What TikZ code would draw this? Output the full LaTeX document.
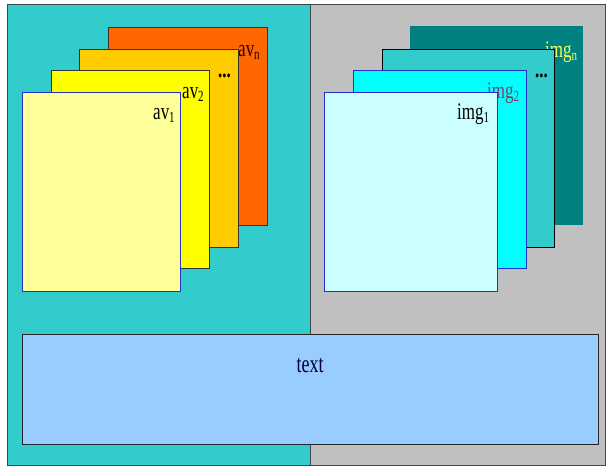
\documentclass[tikz,border=0pt]{standalone}
\usepackage{fontspec}
\setmainfont{Liberation Serif}
\definecolor{panelL}{HTML}{33CCCC}
\definecolor{panelR}{HTML}{C0C0C0}
\definecolor{avA}{HTML}{FFFF99}
\definecolor{avB}{HTML}{FFFF00}
\definecolor{avC}{HTML}{FFCC00}
\definecolor{avD}{HTML}{FF6600}
\definecolor{imA}{HTML}{CCFFFF}
\definecolor{imB}{HTML}{00FFFF}
\definecolor{imC}{HTML}{33CCCC}
\definecolor{imD}{HTML}{008080}
\definecolor{txtbox}{HTML}{99CCFF}
\definecolor{bluel}{HTML}{2233CC}
\definecolor{frame}{HTML}{3A4A4A}
\definecolor{labn}{HTML}{EEFF66}
\definecolor{labtwo}{HTML}{774466}
\newcommand{\sub}[1]{\raisebox{-2.5pt}{\fontsize{11}{11}\selectfont #1}}
\newcommand{\tall}[1]{\scalebox{1}[1.4]{#1}}
\begin{document}
\begin{tikzpicture}[x=1pt,y=-1pt,
  sheet/.style={rectangle,anchor=north west,inner sep=0pt,outer sep=0pt,line width=1pt},
  lab/.style={anchor=base west,inner sep=0pt,font=\fontsize{17}{17}\selectfont}]
\useasboundingbox (0,0) rectangle (607,466);
% panels
\node[sheet,fill=panelL,draw=frame,minimum width=303pt,minimum height=461pt] (left) at (7,4) {};
\node[sheet,fill=panelR,draw=frame,minimum width=295pt,minimum height=461pt] (right) at (310,4) {};
% left stack
\node[sheet,fill=avD,draw=black!80,minimum width=159pt,minimum height=198pt] (avn) at (108,27) {};
\node[lab,text=black!85!red] (lavn) at (238,56) {\tall{av\sub{n}}};
\node[sheet,fill=avC,draw=black!80,minimum width=159pt,minimum height=198pt] (avd) at (79,49) {};
\node[lab] (ldl) at (218,77) {\tall{\textbf{...}}};
\node[sheet,fill=avB,draw=black!80,minimum width=158pt,minimum height=198pt] (av2) at (51,70) {};
\node[lab] (lav2) at (182,98) {\tall{av\sub{2}}};
\node[sheet,fill=avA,draw=bluel,minimum width=158pt,minimum height=199pt] (av1) at (22,92) {};
\node[lab] (lav1) at (153,119) {\tall{av\sub{1}}};
% right stack
\node[sheet,fill=imD,minimum width=173pt,minimum height=199pt] (imgn) at (410,26) {};
\node[lab,text=labn] (limgn) at (545,57) {\tall{img\sub{n}}};
\node[sheet,fill=imC,draw=black,minimum width=172pt,minimum height=198pt] (imgd) at (382,49) {};
\node[lab] (ldr) at (535,77) {\tall{\textbf{...}}};
\node[sheet,fill=imB,draw=bluel,minimum width=173pt,minimum height=198pt] (img2) at (353,70) {};
\node[lab,text=labtwo] (limg2) at (487,98) {\tall{img\sub{2}}};
\node[sheet,fill=imA,draw=bluel,minimum width=173pt,minimum height=199pt] (img1) at (324,92) {};
\node[lab] (limg1) at (457,119) {\tall{img\sub{1}}};
% text box
\node[sheet,fill=txtbox,draw=black!85,minimum width=576pt,minimum height=110pt] (tbox) at (22,334) {};
\node[anchor=base,inner sep=0pt,font=\fontsize{18}{18}\selectfont,text=black!80!blue] (ttext) at (310,372) {\tall{text}};
\end{tikzpicture}
\end{document}
